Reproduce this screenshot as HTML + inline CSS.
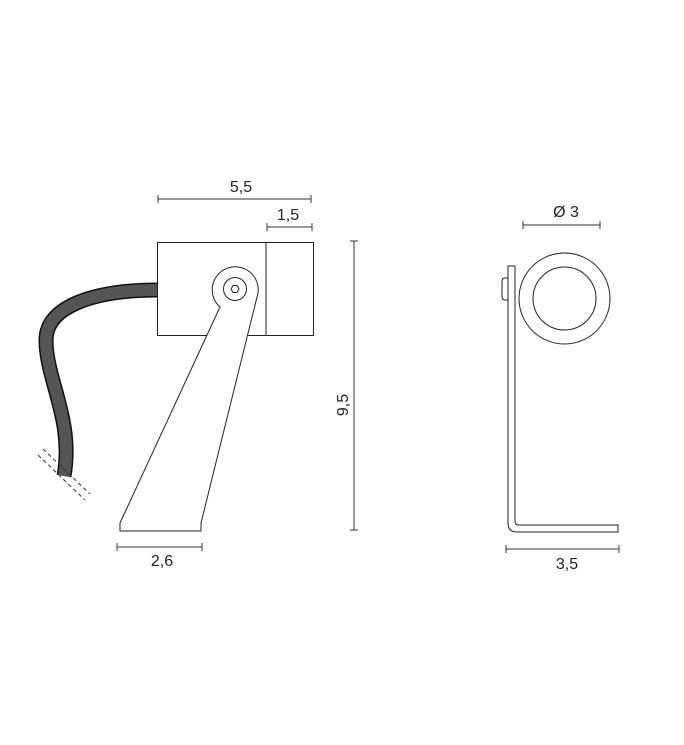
<!DOCTYPE html>
<html><head><style>html,body{margin:0;padding:0;background:#fff;}svg{display:block}</style></head>
<body>
<svg width="684" height="745" viewBox="0 0 684 745" xmlns="http://www.w3.org/2000/svg" font-family="Liberation Sans, sans-serif" font-size="16" fill="none" stroke="#222" stroke-width="1">
<g stroke="#333">
<line x1="158" y1="199" x2="311" y2="199"/><line x1="158" y1="195" x2="158" y2="203"/><line x1="311" y1="195" x2="311" y2="203"/>
<line x1="267" y1="227" x2="312" y2="227"/><line x1="267" y1="223" x2="267" y2="231"/><line x1="312" y1="223" x2="312" y2="231"/>
<line x1="354" y1="241" x2="354" y2="530"/><line x1="350" y1="241" x2="358" y2="241"/><line x1="350" y1="530" x2="358" y2="530"/>
<line x1="117" y1="547" x2="202" y2="547"/><line x1="117" y1="543" x2="117" y2="551"/><line x1="202" y1="543" x2="202" y2="551"/>
<line x1="523" y1="225" x2="600" y2="225"/><line x1="523" y1="221" x2="523" y2="229"/><line x1="600" y1="221" x2="600" y2="229"/>
<line x1="506" y1="549" x2="619" y2="549"/><line x1="506" y1="545" x2="506" y2="553"/><line x1="619" y1="545" x2="619" y2="553"/>
</g>
<g fill="#222" stroke="none" text-anchor="middle">
<text x="241" y="192">5,5</text>
<text x="288" y="220">1,5</text>
<text x="162" y="566">2,6</text>
<text x="566" y="217">Ø 3</text>
<text x="567" y="569">3,5</text>
<text transform="translate(348,405) rotate(-90)">9,5</text>
</g>
<path d="M158,290 C95,290 46,306 46,340 C46,380 74,420 64,476" stroke="#111" stroke-width="15"/>
<path d="M158,290 C95,290 46,306 46,340 C46,380 74,420 64,476" stroke="#555" stroke-width="12"/>
<g stroke="#333" stroke-dasharray="4,3">
<line x1="38" y1="455" x2="85" y2="500"/><line x1="43" y1="449" x2="90" y2="494"/>
</g>
<rect x="157.5" y="242.5" width="156" height="93" fill="#fff"/>
<line x1="266" y1="242" x2="266" y2="336"/>
<path d="M220,307 A23,23 0 1 1 258,293 L201,523 L201,531 L120,531 L120,523 Z" fill="#fff" stroke-linejoin="round"/>
<circle cx="235" cy="289" r="11.5"/>
<polygon points="239,289 237,292.5 233,292.5 231,289 233,285.5 237,285.5"/>
<path d="M502,282 Q502,278 505,278 L508,278 L508,300 L505,300 Q502,300 502,296 Z" fill="#fff"/>
<circle cx="564.5" cy="298.5" r="45.5" fill="#fff"/>
<circle cx="564.5" cy="298.5" r="31.5"/>
<path d="M508,266 L515,266 L515,521 Q515,525 519,525 L618,525 L618,532 L517,532 Q508,532 508,523 Z" fill="#fff"/>
</svg>
</body></html>
